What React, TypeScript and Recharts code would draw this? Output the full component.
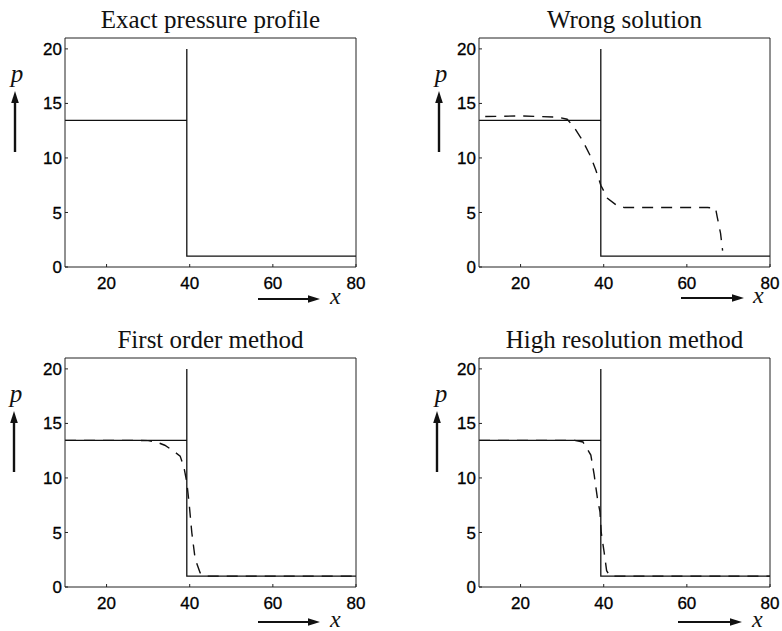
import React from 'react';
import { LineChart, Line, XAxis, YAxis } from 'recharts';

// axis ticks
const xTicks = [20, 40, 60, 80];
const pTicks = [0, 5, 10, 15, 20];

const titles = [
  'Exact pressure profile',
  'Wrong solution',
  'First order method',
  'High resolution method',
];

// exact solution (solid), with the diaphragm marker up to 20
const exactX = [10, 39.3, 39.3, 39.3, 80];
const exactP = [13.45, 13.45, 20, 1, 1];

// numerical solutions (dashed)
const wrongX = [11.5, 20, 28.8, 31.2, 32.9, 34.9, 36.9, 38.1, 39.3, 40.9, 43.3, 45, 55, 65, 66.9, 67.3, 68.1, 68.6];
const wrongP = [13.8, 13.85, 13.75, 13.55, 12.8, 11.6, 10.1, 8.9, 7.5, 6.3, 5.6, 5.45, 5.45, 5.45, 5.4, 4.6, 3.1, 1.5];

const firstX = [10, 27, 30, 32, 34, 36, 37.7, 38.6, 39.3, 39.9, 40.5, 41.3, 42.5, 43.5, 80];
const firstP = [13.45, 13.45, 13.42, 13.3, 13.0, 12.5, 12.0, 11.0, 9.6, 7.5, 5.0, 2.6, 1.3, 1.0, 1.0];

const highX = [10, 33, 35, 36.9, 37.7, 38.5, 39.1, 39.4, 40.1, 40.7, 41.5, 80];
const highP = [13.45, 13.45, 13.3, 12.1, 10.3, 8.1, 6.9, 5.0, 3.2, 1.5, 1.0, 1.0];

const zip = (xs: number[], ps: number[]) => xs.map((x, i) => ({ x, p: ps[i] }));

const W = 366;
const H = 320;
const PL = 65; // plot left inside each panel
const PR = 356; // plot right
const PT = 38; // plot top
const PB = 267; // plot bottom

const tickFont = { fontFamily: '"Liberation Sans", Arial, sans-serif', fontSize: 17, fill: '#000', stroke: '#000', strokeWidth: 0.3 };
const serif = '"Liberation Serif", "Times New Roman", serif';

interface PanelProps {
  left: number;
  top: number;
  title: string;
  numeric: { x: number; p: number }[] | null;
  pDx: number;
  arrowDx: number;
  xa: [number, number, number, number]; // arrow start, arrow end, dy below axis, x label start
}

const Panel: React.FC<PanelProps> = ({ left, top, title, numeric, pDx, arrowDx, xa }) => {
  const exact = zip(exactX, exactP);

  // title + p label with upward arrow
  const renderP = () => {
    const ax = PL + arrowDx;
    return (
      <g>
        <text x={(PL + PR) / 2} y={PT - 10} textAnchor="middle" fontFamily={serif} fontSize={25} fill="#111">
          {title}
        </text>
        <text x={PL + pDx} y={PT + 44} textAnchor="middle" fontFamily={serif} fontStyle="italic" fontSize={25} fill="#111">
          p
        </text>
        <line x1={ax} x2={ax} y1={PT + 114} y2={PT + 62} stroke="#111" strokeWidth={2.4} />
        <polygon points={`${ax},${PT + 53} ${ax - 3.8},${PT + 65} ${ax + 3.8},${PT + 65}`} fill="#111" />
      </g>
    );
  };

  const renderX = () => {
    const [x1, x2, dy, tx] = xa;
    const y = PB + dy;
    return (
      <g>
        <line x1={PL + x1} x2={PL + x2 - 8} y1={y} y2={y} stroke="#111" strokeWidth={2.2} />
        <polygon points={`${PL + x2},${y} ${PL + x2 - 12},${y - 3.8} ${PL + x2 - 12},${y + 3.8}`} fill="#111" />
        <text x={PL + tx} y={y + 5} fontFamily={serif} fontStyle="italic" fontSize={24} fill="#111">
          x
        </text>
      </g>
    );
  };

  return (
    <div style={{ position: 'absolute', left, top, width: W, height: H }}>
      <LineChart width={W} height={H} margin={{ top: PT - 1, right: 9, bottom: 23, left: 25 }}>
        <XAxis
          xAxisId="b"
          dataKey="x"
          type="number"
          domain={[10, 80]}
          ticks={xTicks}
          allowDataOverflow
          height={30}
          stroke="#222"
          tickSize={-3}
          tickMargin={13}
          tick={tickFont}
          label={renderX}
        />
        <XAxis
          xAxisId="t"
          orientation="top"
          dataKey="x"
          type="number"
          domain={[10, 80]}
          ticks={xTicks}
          allowDataOverflow
          height={1}
          stroke="#222"
          tickSize={-3}
          tick={false}
        />
        <YAxis
          yAxisId="l"
          type="number"
          domain={[0, 21]}
          ticks={pTicks}
          allowDataOverflow
          width={40}
          stroke="#222"
          tickSize={-3}
          tickMargin={6}
          tick={tickFont}
          label={renderP}
        />
        <YAxis
          yAxisId="r"
          orientation="right"
          type="number"
          domain={[0, 21]}
          ticks={pTicks}
          allowDataOverflow
          width={1}
          stroke="#222"
          tickSize={-3}
          tick={false}
        />
        {/* invisible copy so the top/right frame axes get drawn */}
        <Line
          xAxisId="t"
          yAxisId="r"
          data={exact}
          dataKey="p"
          stroke="none"
          dot={false}
          activeDot={false}
          isAnimationActive={false}
        />
        <Line
          xAxisId="b"
          yAxisId="l"
          data={exact}
          dataKey="p"
          type="linear"
          stroke="#111"
          strokeWidth={1.3}
          dot={false}
          activeDot={false}
          isAnimationActive={false}
        />
        {numeric && (
          <Line
            xAxisId="b"
            yAxisId="l"
            data={numeric}
            dataKey="p"
            type="linear"
            stroke="#111"
            strokeWidth={1.4}
            strokeDasharray="11 8"
            dot={false}
            activeDot={false}
            isAnimationActive={false}
          />
        )}
      </LineChart>
    </div>
  );
};

export default function App() {
  return (
    <div style={{ position: 'absolute', left: 0, top: 0, width: 782, height: 631, overflow: 'hidden', background: '#fff' }}>
      <Panel left={0} top={0} title={titles[0]} numeric={null} pDx={-48} arrowDx={-50} xa={[193, 255, 32, 265]} />
      <Panel left={414} top={0} title={titles[1]} numeric={zip(wrongX, wrongP)} pDx={-38} arrowDx={-40} xa={[202, 265, 31, 274]} />
      <Panel left={0} top={320} title={titles[2]} numeric={zip(firstX, firstP)} pDx={-49} arrowDx={-51} xa={[193, 255, 35, 265]} />
      <Panel left={414} top={320} title={titles[3]} numeric={zip(highX, highP)} pDx={-38} arrowDx={-42} xa={[199, 263, 35, 273]} />
    </div>
  );
}
